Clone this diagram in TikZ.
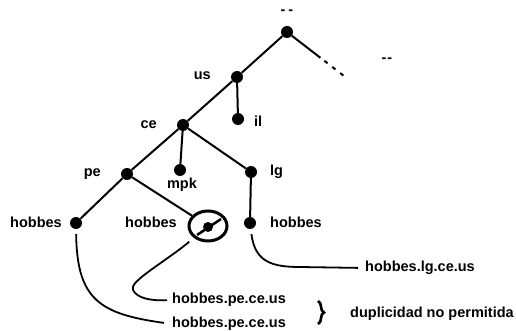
\documentclass[tikz,border=0pt]{standalone}
\usepackage{fontspec}
\setmainfont{Liberation Sans}
\usetikzlibrary{decorations.pathreplacing,shapes.geometric}
\begin{document}
\begin{tikzpicture}[x=1pt,y=-1pt,
  dot/.style={circle,fill=black,inner sep=0pt,minimum size=12pt},
  edge/.style={line width=2pt},
  lead/.style={line width=1.8pt},
  lbl/.style={font=\fontsize{14.5}{16}\selectfont\bfseries,inner sep=0pt},
]
\useasboundingbox (0,0) rectangle (516,331);

% tree nodes
\node[dot] (root) at (287,32) {};
\node[dot] (us)   at (237,77) {};
\node[dot] (l)    at (238,119) {};
\node[dot] (ce)   at (183,125) {};
\node[dot] (mpk)  at (180,170) {};
\node[dot] (lg)   at (251,172) {};
\node[dot] (pe)   at (127,174) {};
\node[dot] (h1)   at (76,223) {};
\node[ellipse,draw,line width=3pt,minimum width=38pt,minimum height=30pt,inner sep=0pt] (h2) at (208,226) {};
\node[dot,minimum size=10pt] (h2c) at (208,227) {};
\node[dot] (h3)   at (250,223) {};
\coordinate (tail) at (344,76);

% labels
\node[lbl] (troot) at (287,12) {-\kern3pt-};
\node[lbl] (tdots) at (387,60) {-\kern1pt-};
\node[lbl,anchor=east] (tus) at (211,76) {us};
\node[lbl,anchor=west] (tl) at (254,121) {il};
\node[lbl,anchor=east] (tce) at (157,125) {ce};
\node[lbl,anchor=east] (tpe) at (101,174) {pe};
\node[lbl] (tmpk) at (182,185) {mpk};
\node[lbl,anchor=west] (tlg) at (270,172) {lg};
\node[lbl,anchor=east] (th1) at (62,222) {hobbes};
\node[lbl,anchor=east] (th2) at (177,222) {hobbes};
\node[lbl,anchor=west] (th3) at (270,222) {hobbes};
\node[lbl,anchor=west] (n3) at (365,268) {hobbes.lg.ce.us};
\node[lbl,anchor=west] (n2) at (172,300) {hobbes.pe.ce.us};
\node[lbl,anchor=west] (n1) at (172,324) {hobbes.pe.ce.us};
\node[lbl,anchor=west] (dup) at (350,314) {duplicidad no permitida};

% edges
\draw[edge] (root) -- (us);
\draw[edge] (us) -- (l);
\draw[edge] (us) -- (ce);
\draw[edge] (ce) -- (mpk);
\draw[edge] (ce) -- (lg);
\draw[edge] (ce) -- (pe);
\draw[edge] (pe) -- (h1);
\draw[edge] (pe) -- (h2);
\draw[edge] (lg) -- (h3);
\draw[edge,dash pattern=on 36pt off 5pt on 4pt off 6pt on 4pt off 6pt on 4pt] (root) -- (tail);

% slashed duplicate
\draw[line width=2.5pt] (197,235) -- (221,219);

% leaders to full names
\draw[lead,shorten <=5pt,shorten >=8pt] (h1) .. controls (77,300) and (100,314) .. (n1.west);
\draw[lead,shorten <=6pt,shorten >=5pt] (h2) .. controls (165,262) and (128,282) .. (133,290) .. controls (137,298) and (150,301) .. (n2.west);
\draw[lead,shorten <=5pt,shorten >=7pt] (h3) .. controls (255,262) and (272,267) .. (300,267) -- (n3.west);

% brace
\draw[line width=2.6pt,decorate,decoration={brace,amplitude=6pt}] (318,301) -- (318,324);
\end{tikzpicture}
\end{document}
